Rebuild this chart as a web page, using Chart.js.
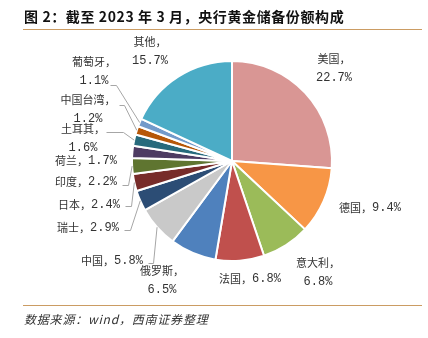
<!DOCTYPE html>
<html>
<head>
<meta charset="utf-8">
<script src="https://cdn.jsdelivr.net/npm/chart.js@4/dist/chart.umd.min.js"></script>
<style>
    body { margin: 0; background: #fff; }
    #wrap { position: relative; width: 428px; height: 338px; overflow: hidden; }
    #chart-box { position: absolute; left: 0; top: 0; width: 428px; height: 338px; }
    .title {
        position: absolute; left: 24px; top: 8px;
        font: bold 14px "Noto Sans CJK SC", sans-serif; line-height: 16px; color: #111;
        letter-spacing: 0.6px; white-space: nowrap;
    }
    .rule { position: absolute; left: 23px; width: 399px; height: 1px; background: #CB9C63; }
    .source {
        position: absolute; left: 24px; top: 311px;
        font: italic 12px "Noto Sans CJK SC", sans-serif; line-height: 16px; color: #333;
        letter-spacing: 0.8px; white-space: nowrap;
    }
</style>
</head>
<body>
<div id="wrap">
    <div id="chart-box"><canvas id="gold-share-chart"></canvas></div>
    <div class="title">图 2：截至 2023 年 3 月，央行黄金储备份额构成</div>
    <div class="rule" style="top: 29px;"></div>
    <div class="rule" style="top: 305px;"></div>
    <div class="source">数据来源：wind，西南证券整理</div>
</div>
<script>
    // Data (share of central bank gold reserves, %)
    var countries = ['美国', '德国', '意大利', '法国', '俄罗斯', '中国', '瑞士', '日本',
        '印度', '荷兰', '土耳其', '中国台湾', '葡萄牙', '其他'];
    var shares = [22.7, 9.4, 6.8, 6.8, 6.5, 5.8, 2.9, 2.4, 2.2, 1.7, 1.6, 1.2, 1.1, 15.7];

    var sliceColors = ['#D99694', '#F79646', '#9BBB59', '#C0504D', '#4F81BD', '#C9C9C9', '#2C4D75',
        '#772C2A', '#5F7530', '#4D3B62', '#276A7C', '#B65708', '#729ACA', '#4BACC6'];

    // Label placement, relative to the pie centre (first line centre, px)
    var labelSpots = [
        { dx: 102, dy: -102, wrap: true },
        { dx: 138, dy: 47 },
        { dx: 86, dy: 102, wrap: true },
        { dx: 18, dy: 118 },
        { dx: -70, dy: 110, wrap: true },
        { dx: -120, dy: 100, leader: [[-84, 102], [-79, 102]] },
        { dx: -144, dy: 67, leader: [[-108, 69], [-102, 69]] },
        { dx: -143, dy: 44, leader: [[-107, 45], [-101, 45]] },
        { dx: -146, dy: 21, leader: [[-110, 24], [-104, 24]] },
        { dx: -146, dy: 0 },
        { dx: -149, dy: -32, wrap: true, leader: [[-126, -29], [-109, -29]] },
        { dx: -144, dy: -61, wrap: true, leader: [[-113, -56], [-108, -56]] },
        { dx: -138, dy: -99, wrap: true, leader: [[-122, -76], [-116, -76]] },
        { dx: -82, dy: -119, wrap: true }
    ];

    var LINE_GAP = 19;
    var CJK_FONT = '11px "Noto Sans CJK SC", sans-serif';
    var NUM_FONT = '12px "Liberation Mono", "DejaVu Sans Mono", monospace';

    function pickFont(ch) {
        return /[\u0000-\u00ff]/.test(ch) ? NUM_FONT : CJK_FONT;
    }

    // Split text into runs so digits and Chinese get their own font
    function textRuns(ctx, text) {
        var runs = [];
        for (var i = 0; i < text.length; i++) {
            var f = pickFont(text[i]);
            if (runs.length && runs[runs.length - 1].font === f) {
                runs[runs.length - 1].text += text[i];
            } else {
                runs.push({ font: f, text: text[i] });
            }
        }
        var total = 0;
        runs.forEach(function(r) {
            ctx.font = r.font;
            r.width = ctx.measureText(r.text).width;
            total += r.width;
        });
        return { runs: runs, width: total };
    }

    function drawCentered(ctx, text, x, y) {
        var info = textRuns(ctx, text);
        var cur = x - info.width / 2;
        ctx.textAlign = 'left';
        ctx.textBaseline = 'middle';
        ctx.fillStyle = '#333333';
        info.runs.forEach(function(r) {
            ctx.font = r.font;
            ctx.fillText(r.text, cur, y);
            cur += r.width;
        });
    }

    var sliceLabels = {
        id: 'sliceLabels',
        afterDatasetsDraw: function(chart) {
            var ctx = chart.ctx;
            var arcs = chart.getDatasetMeta(0).data;
            ctx.save();
            arcs.forEach(function(arc, i) {
                var spot = labelSpots[i];
                var cx = arc.x, cy = arc.y;
                var pct = shares[i].toFixed(1) + '%';

                if (spot.leader) {
                    var mid = (arc.startAngle + arc.endAngle) / 2;
                    var ex = cx + Math.cos(mid) * arc.outerRadius;
                    var ey = cy + Math.sin(mid) * arc.outerRadius;
                    ctx.beginPath();
                    ctx.moveTo(cx + spot.leader[0][0] + 0.5, cy + spot.leader[0][1] + 0.5);
                    ctx.lineTo(cx + spot.leader[1][0] + 0.5, cy + spot.leader[1][1] + 0.5);
                    ctx.lineTo(ex, ey);
                    ctx.strokeStyle = '#A6A6A6';
                    ctx.lineWidth = 1;
                    ctx.stroke();
                }

                var lines = spot.wrap ? [countries[i] + '，', pct] : [countries[i] + '，' + pct];
                lines.forEach(function(line, k) {
                    drawCentered(ctx, line, cx + spot.dx, cy + spot.dy + k * LINE_GAP);
                });
            });
            ctx.restore();
        }
    };

    var canvas = document.getElementById('gold-share-chart');
    new Chart(canvas.getContext('2d'), {
        type: 'pie',
        data: {
            labels: countries,
            datasets: [{
                data: shares,
                backgroundColor: sliceColors,
                borderColor: '#ffffff',
                borderWidth: 2
            }]
        },
        options: {
            responsive: true,
            maintainAspectRatio: false,
            animation: false,
            layout: {
                padding: { left: 131, right: 95, top: 60, bottom: 76 }
            },
            plugins: {
                legend: { display: false },
                tooltip: { enabled: false }
            }
        },
        plugins: [sliceLabels]
    });
</script>
</body>
</html>
